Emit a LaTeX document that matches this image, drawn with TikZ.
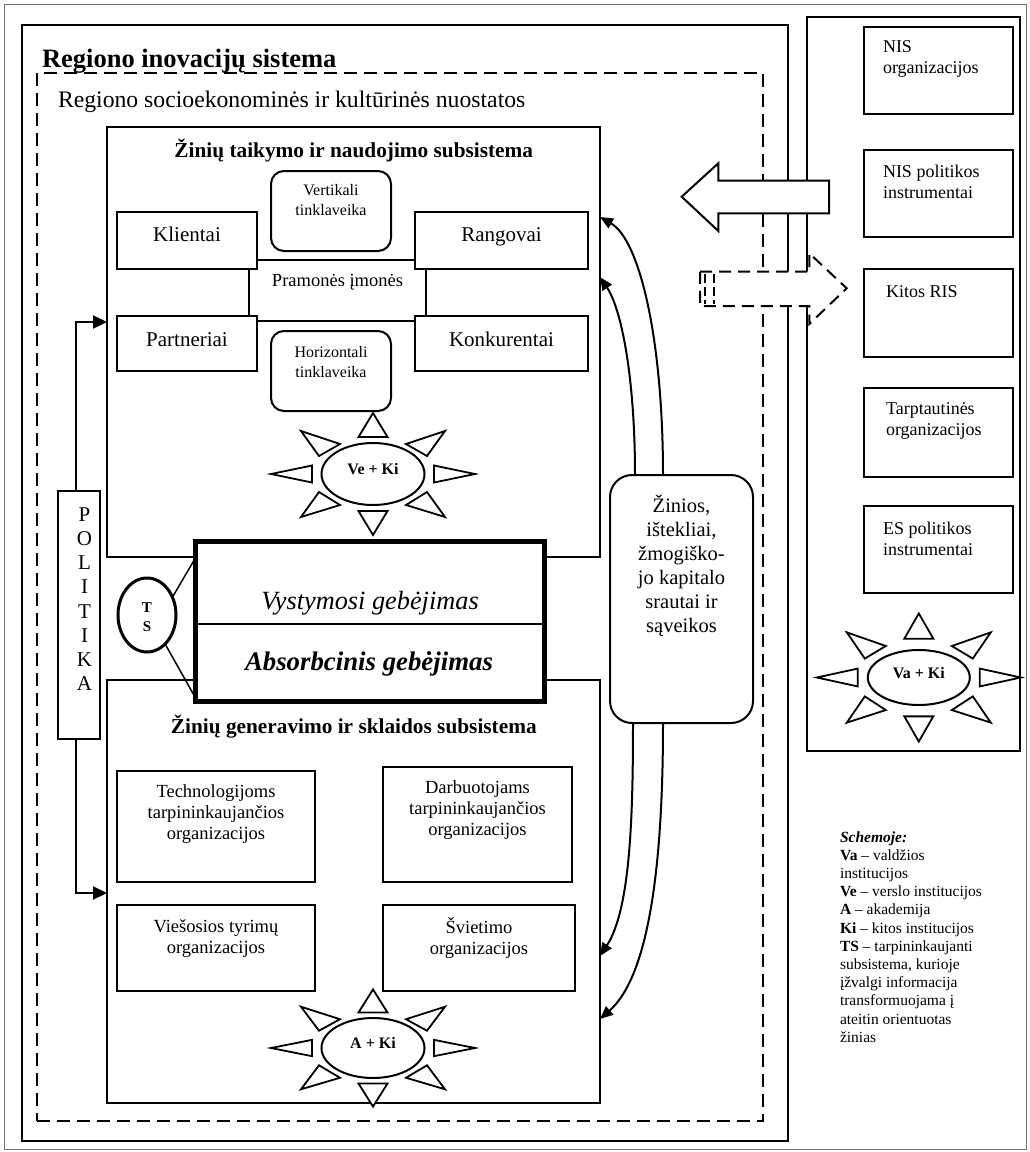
\documentclass[tikz,border=0pt]{standalone}
\usepackage{fontspec}
\setmainfont{Liberation Serif}
\usetikzlibrary{arrows.meta,calc,shapes.geometric}

\tikzset{
  every node/.style={inner sep=0pt, outer sep=0pt},
  frameline/.style={draw=black!55, line width=1pt},
  blk/.style={draw, line width=2pt, fill=white, rectangle},
  roundblk/.style={blk, rounded corners=13pt},
  dashblk/.style={draw, line width=2pt, dash pattern=on 13pt off 7pt},
  hub/.style={draw, ellipse, line width=2pt, fill=white},
  ray/.style={draw, line width=1.8pt, fill=white, line join=miter},
  stacked/.style={align=center, execute at begin node=\strut, execute at end node=\strut},
  leftstack/.style={align=left, execute at begin node=\strut, execute at end node=\strut},
  polarrow/.style={line width=2.2pt, -{Triangle[length=14pt,width=13pt]}},
  flowarrow/.style={line width=2pt, -{Triangle[length=13pt,width=11pt]}},
  widearrow/.style={draw, fill=white, line width=2pt, line join=miter},
  tsline/.style={line width=1.5pt},
  ftitle/.style={font=\fontsize{26.5}{30}\selectfont\bfseries},
  fsocio/.style={font=\fontsize{23.7}{28}\selectfont},
  fsub/.style={font=\fontsize{21.3}{25}\selectfont\bfseries},
  factor/.style={font=\fontsize{21}{24}\selectfont},
  fsmall/.style={font=\fontsize{16}{19.5}\selectfont},
  fmid/.style={font=\fontsize{18.5}{21}\selectfont},
  fext/.style={font=\fontsize{18}{21}\selectfont},
  fflow/.style={font=\fontsize{20.5}{24}\selectfont},
  fhub/.style={font=\fontsize{16}{19.5}\selectfont\bfseries},
  fts/.style={font=\fontsize{15}{19.5}\selectfont\bfseries},
  fpol/.style={font=\fontsize{21}{24.2}\selectfont},
  flegend/.style={font=\fontsize{15.5}{18.2}\selectfont},
  % eight triangular rays around an actor ellipse
  rays/.pic={
    \draw[ray] (0,-61) -- (-14.5,-37) -- (14.5,-37) -- cycle;
    \draw[ray] (0,61) -- (-14.5,37) -- (14.5,37) -- cycle;
    \draw[ray] (102,0) -- (61,-8.5) -- (61,8.5) -- cycle;
    \draw[ray] (-102,0) -- (-61,-8.5) -- (-61,8.5) -- cycle;
    \draw[ray] (-72,-43) -- (-33,-30) -- (-54,-18) -- cycle;
    \draw[ray] (72,-43) -- (33,-30) -- (54,-18) -- cycle;
    \draw[ray] (-72,43) -- (-54,18) -- (-33,31) -- cycle;
    \draw[ray] (72,43) -- (54,18) -- (33,31) -- cycle;
  }
}

\begin{document}
\begin{tikzpicture}[x=1pt, y=-1pt]
\useasboundingbox (0,0) rectangle (1029,1152);

% page frame
\node[frameline, minimum width=1022pt, minimum height=1145pt] (frame) at (515,576.5) {};

% regional innovation system, its environment and the external column
\node[blk, minimum width=766pt, minimum height=1116pt] (ris) at (405,583) {};
\node[blk, minimum width=213pt, minimum height=734pt] (ext) at (913.5,384) {};
\node[dashblk, minimum width=726pt, minimum height=1048pt] (socio) at (400,597) {};
\node[ftitle, anchor=base west] (ristitle) at (42,67) {Regiono inovacijų sistema};
\node[fsocio, anchor=base west] (sociotitle) at (58,107) {Regiono socioekonominės ir kultūrinės nuostatos};

% knowledge application and exploitation subsystem
\node[blk, minimum width=493pt, minimum height=430pt] (apply) at (353.5,342) {};
\node[fsub, anchor=base] (applytitle) at (353.8,157) {Žinių taikymo ir naudojimo subsistema};
\node[blk, minimum width=177pt, minimum height=61pt] (ind) at (337.5,290.5) {};
\node[fmid, anchor=base] (indt) at (337.5,286.7) {Pramonės įmonės};
\node[blk, minimum width=140pt, minimum height=57pt] (kl) at (187,240.5) {};
\node[factor, anchor=base] (klt) at (187,241) {Klientai};
\node[blk, minimum width=173pt, minimum height=57pt] (ra) at (501.5,240.5) {};
\node[factor, anchor=base] (rat) at (501.5,241) {Rangovai};
\node[blk, minimum width=140pt, minimum height=55pt] (pa) at (187,343.5) {};
\node[factor, anchor=base] (pat) at (187,346) {Partneriai};
\node[blk, minimum width=173pt, minimum height=55pt] (ko) at (501.5,343.5) {};
\node[factor, anchor=base] (kot) at (501.5,346) {Konkurentai};
\node[roundblk, minimum width=120pt, minimum height=80pt] (vert) at (331,211) {};
\node[fsmall, stacked] (vertt) at (331,202.9) {Vertikali\\tinklaveika};
\node[roundblk, minimum width=120pt, minimum height=80pt] (hori) at (331,371) {};
\node[fsmall, stacked] (horit) at (331,364.9) {Horizontali\\tinklaveika};

\pic at (373,474) {rays};
\node[hub, minimum width=103pt, minimum height=62pt] (vehub) at (373,474) {};
\node[fhub, anchor=base] (vehubt) at (373,474) {Ve + Ki};

% knowledge generation and diffusion subsystem
\node[blk, minimum width=493pt, minimum height=423pt] (gen) at (353.5,891.5) {};
\node[fsub, anchor=base] (gentitle) at (353.8,733) {Žinių generavimo ir sklaidos subsistema};
\node[blk, minimum width=198pt, minimum height=111pt] (tech) at (216,826.5) {};
\node[fmid, stacked] (techt) at (216,814.8) {Technologijoms\\tarpininkaujančios\\organizacijos};
\node[blk, minimum width=189pt, minimum height=115pt] (darb) at (477.5,824.5) {};
\node[fmid, stacked] (darbt) at (477.5,811.1) {Darbuotojams\\tarpininkaujančios\\organizacijos};
\node[blk, minimum width=198pt, minimum height=86pt] (vies) at (216,948) {};
\node[fmid, stacked] (viest) at (216,939.6) {Viešosios tyrimų\\organizacijos};
\node[blk, minimum width=192pt, minimum height=86pt] (svie) at (479,948) {};
\node[fmid, stacked] (sviet) at (479,939.6) {Švietimo\\organizacijos};

\pic[yscale=0.96] at (373,1048) {rays};
\node[hub, minimum width=103pt, minimum height=60pt] (ahub) at (373,1048) {};
\node[fhub, anchor=base] (ahubt) at (373,1048) {A + Ki};

% policy column
\node[blk, line width=2.2pt, minimum width=42pt, minimum height=248pt] (pol) at (79,615) {};
\node[fpol, stacked] (polt) at (84.5,602.7) {P\\O\\L\\I\\T\\I\\K\\A};
\draw[polarrow] ($(pol.north)+(-3,0)$) |- ($(apply.north west)+(0,195)$);
\draw[polarrow] ($(pol.south)+(-3,0)$) |- ($(gen.north west)+(0,213)$);

% capabilities and the intermediary subsystem
\node[blk, line width=5pt, minimum width=349pt, minimum height=160pt] (cap) at (369.5,621) {};
\draw[line width=2pt] ($(cap.north west)+(0,83)$) -- ($(cap.north east)+(0,83)$);
\node[font=\fontsize{26.3}{30}\selectfont\itshape, anchor=base] (capdev) at (370,609.3) {Vystymosi gebėjimas};
\node[font=\fontsize{26.8}{30}\selectfont\bfseries\itshape, anchor=base] (capabs) at (369,670) {Absorbcinis gebėjimas};
\node[hub, line width=3pt, minimum width=58pt, minimum height=74pt] (ts) at (147,615) {};
\node[fts, stacked] (tst) at (147,619.9) {T\\S};
\draw[tsline] (ts.35) -- ($(cap.north west)!0.11!(cap.south west)$);
\draw[tsline] (ts.-58) -- ($(cap.north west)!0.975!(cap.south west)$);

% flows between the subsystems
\node[blk, rounded corners=22pt, minimum width=143pt, minimum height=248pt] (flow) at (681.5,599) {};
\node[fflow, stacked] (flowt) at (681.5,567.7) {Žinios,\\ištekliai,\\žmogiško-\\jo kapitalo\\srautai ir\\sąveikos};
\draw[flowarrow] ($(flow.north west)+(53,0)$) .. controls (663,340) and (640,240) .. ($(apply.north east)+(0,90)$);
\draw[flowarrow] ($(flow.north west)+(25,0)$) .. controls (635,380) and (622,310) .. ($(apply.north east)+(0,150)$);
\draw[flowarrow] ($(flow.south west)+(23,0)$) .. controls (633,820) and (630,910) .. ($(gen.north east)+(0,276)$);
\draw[flowarrow] ($(flow.south west)+(53,0)$) .. controls (663,860) and (650,975) .. ($(gen.north east)+(0,339)$);

% external environment
\node[blk, minimum width=149pt, minimum height=87pt] (niso) at (938.5,70.5) {};
\node[fext, leftstack, anchor=north west] (nisot) at (883,40.3) {NIS\\organizacijos};
\node[blk, minimum width=149pt, minimum height=87pt] (nisp) at (938.5,193.5) {};
\node[fext, leftstack, anchor=north west] (nispt) at (883,165.3) {NIS politikos\\instrumentai};
\node[blk, minimum width=149pt, minimum height=88pt] (kitos) at (938.5,313) {};
\node[fext, anchor=base west] (kitost) at (886,297.7) {Kitos RIS};
\node[blk, minimum width=149pt, minimum height=89pt] (tarpt) at (938.5,432.5) {};
\node[fext, leftstack, anchor=north west] (tarptt) at (886,403) {Tarptautinės\\organizacijos};
\node[blk, minimum width=149pt, minimum height=87pt] (espol) at (938.5,549.5) {};
\node[fext, leftstack, anchor=north west] (espolt) at (883,522) {ES politikos\\instrumentai};

\pic[yscale=1.05] at (918.8,677.5) {rays};
\node[hub, minimum width=102pt, minimum height=55pt] (vahub) at (918.8,677.5) {};
\node[fhub, anchor=base] (vahubt) at (918.8,678.5) {Va + Ki};

% block arrows crossing the system border
\draw[widearrow] (681.7,196.7) -- (718.3,163.3) -- (718.3,180.7) -- (829,180.7)
  -- (829,213.3) -- (718.3,213.3) -- (718.3,231) -- cycle;
\draw[widearrow, dash pattern=on 12pt off 7pt] (700,271.7) -- (809.3,271.7) -- (809.3,253.3)
  -- (846.7,288.3) -- (809.3,324) -- (809.3,306) -- (700,306) -- cycle;
\draw[line width=1.5pt, dash pattern=on 9pt off 4pt] (705,274) -- (705,304);
\draw[line width=1.5pt, dash pattern=on 9pt off 4pt] (714,274) -- (714,304);

% legend
\node[flegend, leftstack, anchor=north west] (legend) at (840,831.3) {%
\textbf{\textit{Schemoje:}}\\
\textbf{Va} – valdžios\\
institucijos\\
\textbf{Ve} – verslo institucijos\\
\textbf{A} – akademija\\
\textbf{Ki} – kitos institucijos\\
\textbf{TS} – tarpininkaujanti\\
subsistema, kurioje\\
įžvalgi informacija\\
transformuojama į\\
ateitin orientuotas\\
žinias};
\end{tikzpicture}
\end{document}
